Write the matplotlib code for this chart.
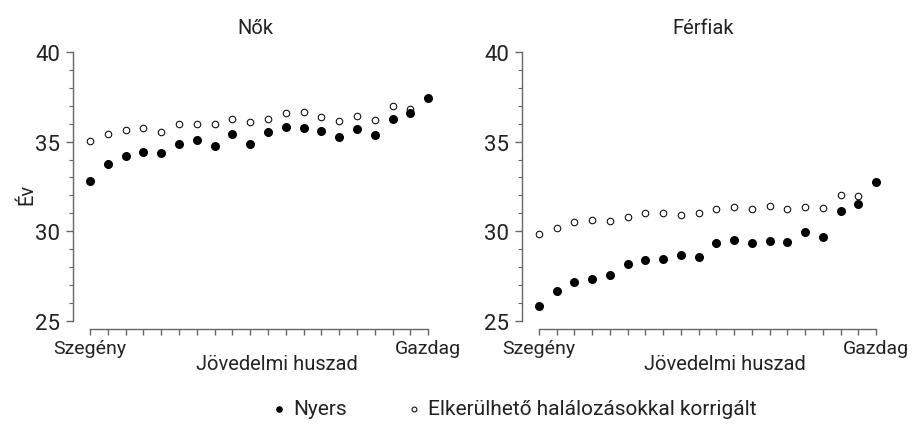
import numpy as np
import matplotlib.pyplot as plt
from matplotlib.ticker import MultipleLocator, FixedLocator

# ******************************
## Data (income ventiles 1..20)
# ******************************
ventiles = np.arange(1, 21)

women_raw = [32.79, 33.73, 34.19, 34.42, 34.38, 34.89, 35.07, 34.76, 35.43, 34.85,
             35.56, 35.81, 35.77, 35.60, 35.26, 35.71, 35.37, 36.27, 36.57, 37.43]
women_adj = [35.02, 35.41, 35.64, 35.75, 35.54, 35.99, 35.97, 35.96, 36.27, 36.07,
             36.27, 36.57, 36.63, 36.35, 36.14, 36.42, 36.18, 36.97, 36.82, 37.43]

men_raw = [25.84, 26.68, 27.15, 27.33, 27.54, 28.19, 28.41, 28.45, 28.69, 28.58,
           29.33, 29.53, 29.33, 29.46, 29.40, 29.98, 29.68, 31.12, 31.53, 32.76]
men_adj = [29.87, 30.19, 30.49, 30.63, 30.60, 30.80, 31.01, 31.04, 30.93, 31.03,
           31.25, 31.36, 31.27, 31.42, 31.23, 31.34, 31.31, 32.03, 31.96, 32.76]

titles = ["Nők", "Férfiak"]
xtick_labels = ["Szegény", "Gazdag"]
xlabel = "Jövedelmi huszad"
ylabel = "Év"
legend_labels = ["Nyers", "Elkerülhető halálozásokkal korrigált"]

# ******************************
## Style
# ******************************
plt.rcParams['font.family'] = ['Roboto', 'DejaVu Sans']
txt = '#222222'
spine_c = '#666666'

fig = plt.figure(figsize=(9.17, 4.27), dpi=100)
ax1 = fig.add_axes([0.0796, 0.2272, 0.397, 0.6487])
ax2 = fig.add_axes([0.569, 0.2272, 0.396, 0.6487])

for ax, title, raw, adj in [(ax1, titles[0], women_raw, women_adj),
                            (ax2, titles[1], men_raw, men_adj)]:
    ax.scatter(ventiles, adj, s=22, facecolor='white', edgecolor='#111111',
               linewidth=0.8, zorder=2)
    ax.scatter(ventiles, raw, s=30, color='black', zorder=3)

    ax.set_xlim(0.04, 20.5)
    ax.set_ylim(24.55, 40)
    for s in ['top', 'right']:
        ax.spines[s].set_visible(False)
    for s in ['left', 'bottom']:
        ax.spines[s].set_color(spine_c)
        ax.spines[s].set_linewidth(1.0)
    ax.spines['left'].set_bounds(25, 40)
    ax.spines['bottom'].set_bounds(1, 20)

    ax.yaxis.set_major_locator(FixedLocator([25, 30, 35, 40]))
    ax.yaxis.set_minor_locator(MultipleLocator(1))
    ax.set_xticks(ventiles)
    ax.set_xticklabels([xtick_labels[0]] + [''] * 18 + [xtick_labels[1]])

    ax.tick_params(axis='y', which='major', length=5, width=1, color=spine_c,
                   labelsize=16, labelcolor=txt, pad=4)
    ax.tick_params(axis='y', which='minor', length=3, width=0.8, color=spine_c)
    ax.tick_params(axis='x', length=4, width=1, color=spine_c,
                   labelsize=14, labelcolor=txt, pad=3)

    ax.set_title(title, fontsize=14.5, color=txt, pad=14)
    ax.set_xlabel(xlabel, fontsize=14.5, color=txt)
    ax.xaxis.set_label_coords(0.56, -0.09)

ax1.set_ylabel(ylabel, fontsize=14.5, color=txt)
ax1.yaxis.set_label_coords(-0.10, 0.49)

h1 = ax1.scatter([], [], s=14, color='black')
h2 = ax1.scatter([], [], s=12, facecolor='white', edgecolor='#111111', linewidth=0.8)
fig.legend([h1, h2], legend_labels, loc='center', bbox_to_anchor=(0.559, 0.04),
           ncol=2, frameon=False, fontsize=15, handlelength=1.0, handletextpad=0.2,
           columnspacing=2.7, labelcolor=txt)

fig.savefig('out.png', dpi=100)
